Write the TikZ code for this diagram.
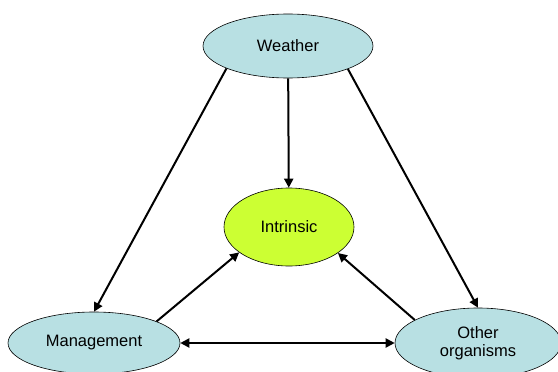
\documentclass[tikz,border=0pt]{standalone}
\usepackage{fontspec}
\setmainfont{Liberation Sans}
\usetikzlibrary{shapes.geometric,arrows.meta}
\definecolor{paleblue}{HTML}{B8E0E3}
\definecolor{lime}{HTML}{CCFF33}
\begin{document}
\begin{tikzpicture}[x=1pt,y=-1pt,
  factor/.style={ellipse,draw=black,line width=0.6pt,fill=paleblue,inner sep=0pt,
    font=\fontsize{16.5}{18}\selectfont,align=center},
  link/.style={line width=2pt,-{Triangle[length=9pt,width=9pt]}},
  duallink/.style={line width=2pt,{Triangle[length=9pt,width=9pt]}-{Triangle[length=9pt,width=9pt]}}]
  \useasboundingbox[fill=white] (0,0) rectangle (558,372);
  \node[factor,minimum width=170pt,minimum height=64pt] (weather) at (288,46) {Weather};
  \node[factor,fill=lime,minimum width=130pt,minimum height=78pt] (intrinsic) at (289,227) {Intrinsic};
  \node[factor,minimum width=172pt,minimum height=62pt] (mgmt) at (94,343) {Management};
  \node[factor,minimum width=166pt,minimum height=70pt] (other) at (478,343) {Other\\organisms};
  \draw[link] (weather.200.7) -- (mgmt.north);
  \draw[link] (weather) -- (intrinsic);
  \draw[link] (weather.339.3) -- (other.north);
  \draw[link] (mgmt.19.6) -- (intrinsic.207);
  \draw[link] (other.160) -- (intrinsic.332.5);
  \draw[duallink] (mgmt) -- (other);
\end{tikzpicture}
\end{document}
